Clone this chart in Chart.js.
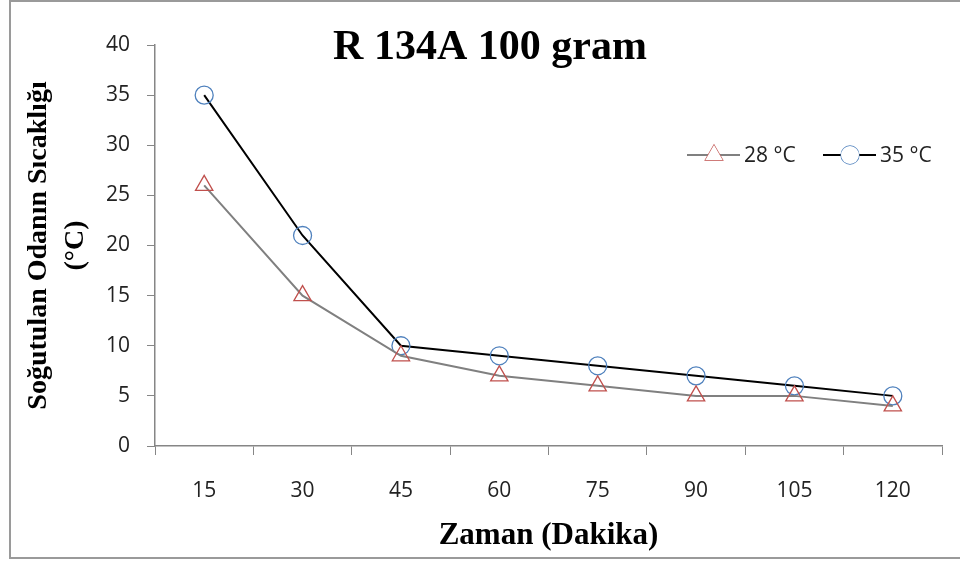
<!DOCTYPE html>
<html lang="tr">
<head>
  <meta charset="UTF-8" />
  <title>R 134A 100 gram</title>
  <script src="https://cdn.jsdelivr.net/npm/chart.js"></script>
  <style>
    html, body {
      margin: 0;
      padding: 0;
      background: #fff;
      overflow: hidden;
    }
    .wrap {
      position: relative;
      width: 960px;
      height: 563px;
    }
    .frame {
      position: absolute;
      left: 9px;
      top: 0;
      width: 1000px;
      height: 559px;
      box-sizing: border-box;
      border: 2px solid #9a9a9a;
    }
    canvas {
      position: absolute;
      left: 0;
      top: 0;
    }
  </style>
</head>
<body>
  <div class="wrap">
    <div class="frame"></div>
    <canvas id="chart" width="960" height="563"></canvas>
  </div>

  <script>
    const minutes = ['15', '30', '45', '60', '75', '90', '105', '120'];
    const temp28 = [26, 15, 9, 7, 6, 5, 5, 4];
    const temp35 = [35, 21, 10, 9, 8, 7, 6, 5];
    const seriesNames = ['28 °C', '35 °C'];
    const yTicks = [0, 5, 10, 15, 20, 25, 30, 35, 40];

    const tickFont = { family: "'Open Sans', 'Noto Sans', sans-serif", size: 21 };
    const serif = "'Liberation Serif', 'DejaVu Serif', serif";

    // title sits inside the plot area, like the original
    const titlePlugin = {
      id: 'innerTitle',
      afterDraw(chart) {
        const ctx = chart.ctx;
        const a = chart.chartArea;
        ctx.save();
        ctx.font = 'bold 42px ' + serif;
        ctx.fillStyle = '#000';
        ctx.textAlign = 'center';
        ctx.textBaseline = 'middle';
        ctx.fillText('R 134A 100 gram', a.left + 335, a.top + 3);
        ctx.restore();
      }
    };

    // legend drawn inside the plot at the right
    const legendPlugin = {
      id: 'innerLegend',
      afterDraw(chart) {
        const ctx = chart.ctx;
        const a = chart.chartArea;
        const y = a.top + 110;
        let x = a.left + 532;
        ctx.save();
        ctx.font = "21px 'Open Sans', 'Noto Sans', sans-serif";
        ctx.textBaseline = 'middle';
        chart.data.datasets.forEach(ds => {
          ctx.strokeStyle = ds.borderColor;
          ctx.lineWidth = ds.borderWidth;
          ctx.beginPath();
          ctx.moveTo(x, y);
          ctx.lineTo(x + 53, y);
          ctx.stroke();
          ctx.fillStyle = '#fff';
          ctx.strokeStyle = ds.pointBorderColor;
          ctx.lineWidth = ds.pointBorderWidth;
          Chart.helpers.drawPoint(ctx, {
            pointStyle: ds.pointStyle,
            radius: ds.pointRadius,
            borderWidth: ds.pointBorderWidth
          }, x + 27, y);
          ctx.fill();
          ctx.fillStyle = '#222';
          ctx.fillText(ds.label, x + 57, y + 1);
          x += 136;
        });
        ctx.restore();
      }
    };

    new Chart(document.getElementById('chart'), {
      type: 'line',
      data: {
        labels: minutes,
        datasets: [
          {
            label: seriesNames[0],
            data: temp28,
            borderColor: '#808080',
            borderWidth: 2,
            pointStyle: 'triangle',
            pointRadius: 10,
            pointBorderColor: '#c0504d',
            pointBackgroundColor: 'rgba(0,0,0,0)',
            pointBorderWidth: 1.3,
            tension: 0
          },
          {
            label: seriesNames[1],
            data: temp35,
            borderColor: '#000000',
            borderWidth: 2,
            pointStyle: 'circle',
            pointRadius: 9,
            pointBorderColor: '#4f81bd',
            pointBackgroundColor: 'rgba(0,0,0,0)',
            pointBorderWidth: 1.3,
            tension: 0
          }
        ]
      },
      options: {
        responsive: false,
        animation: false,
        layout: { padding: { left: 10, right: 18, top: 45, bottom: 8 } },
        plugins: {
          legend: { display: false },
          tooltip: { enabled: false }
        },
        scales: {
          x: {
            offset: true,
            grid: {
              offset: true,
              drawOnChartArea: false,
              drawTicks: true,
              tickLength: 9,
              color: '#868686'
            },
            border: { color: '#868686', width: 1.5 },
            ticks: { font: tickFont, color: '#222', padding: 23, maxRotation: 0 },
            title: {
              display: true,
              text: 'Zaman (Dakika)',
              font: { family: serif, size: 31, weight: 'bold' },
              color: '#000',
              padding: { top: 0, bottom: 0 }
            },
            afterFit(scale) { scale.height = 109; }
          },
          y: {
            min: 0,
            max: 40,
            afterBuildTicks(scale) { scale.ticks = yTicks.map(v => ({ value: v })); },
            grid: {
              drawOnChartArea: false,
              drawTicks: true,
              tickLength: 8,
              color: '#868686'
            },
            border: { color: '#868686', width: 1.5 },
            ticks: { font: tickFont, color: '#222', padding: 17 },
            title: {
              display: true,
              text: ['Soğutulan Odanın Sıcaklığı', '(°C)'],
              font: { family: serif, size: 28, weight: 'bold', lineHeight: 1.32 },
              color: '#000',
              padding: { top: 10, bottom: 0 }
            },
            afterFit(scale) { scale.width = 145; }
          }
        }
      },
      plugins: [titlePlugin, legendPlugin]
    });
  </script>
</body>
</html>
